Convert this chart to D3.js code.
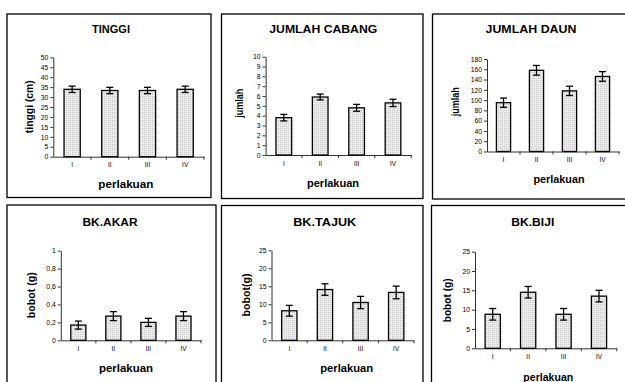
<!DOCTYPE html>
<html><head><meta charset="utf-8">
<script src="https://cdn.jsdelivr.net/npm/d3@7"></script>
<style>
body{margin:0;background:#fff}
svg{display:block}
text{font-family:"Liberation Sans",Arial,sans-serif;fill:#000}
</style>
</head><body><svg id="c" width="625" height="382"></svg>
<script>
// ---------- data ----------
const categories = ["I", "II", "III", "IV"];

const tinggiValues = [33.9, 33.3, 33.3, 33.9];
const tinggiErrors = [1.6, 1.6, 1.6, 1.6];
const tinggiTicks  = [0, 5, 10, 15, 20, 25, 30, 35, 40, 45, 50];

const cabangValues = [3.8, 5.9, 4.8, 5.3];
const cabangErrors = [0.33, 0.3, 0.35, 0.37];
const cabangTicks  = [0, 1, 2, 3, 4, 5, 6, 7, 8, 9, 10];

const daunValues = [95, 158, 118, 146];
const daunErrors = [9, 9.4, 9, 9.4];
const daunTicks  = [0, 20, 40, 60, 80, 100, 120, 140, 160, 180];

const akarValues = [0.17, 0.27, 0.20, 0.27];
const akarErrors = [0.045, 0.05, 0.045, 0.05];
const akarTicks  = [0, 0.2, 0.4, 0.6, 0.8, 1];
const akarTickLabels = ["0", "0,2", "0,4", "0,6", "0,8", "1"];

const tajukValues = [8.2, 14.1, 10.5, 13.3];
const tajukErrors = [1.5, 1.6, 1.7, 1.75];
const tajukTicks  = [0, 5, 10, 15, 20, 25];

const bijiValues = [8.8, 14.5, 8.8, 13.5];
const bijiErrors = [1.5, 1.5, 1.5, 1.5];
const bijiTicks  = [0, 5, 10, 15, 20, 25];

const titles  = ["TINGGI", "JUMLAH CABANG", "JUMLAH DAUN", "BK.AKAR", "BK.TAJUK", "BK.BIJI"];
const yLabels = ["tinggi (cm)", "jumlah", "jumlah", "bobot (g)", "bobot(g)", "bobot (g)"];
const xLabel  = "perlakuan";

// ---------- layout (positions only) ----------
const layout = [
  {box:[7,14,211,197.5],   plot:[53.3,204,156.7,57.3], title:[111,29.3,38],   yLab:[29.3,106.7,53],  xLab:[125.8,184,55]},
  {box:[221.5,14,423,198.5],plot:[265.6,411.2,155,56.7], title:[323.3,29.3,108], yLab:[239,103.3,29], xLab:[333,182.7,52]},
  {box:[432.5,14,640,199], plot:[487,619,151.5,59], title:[531,29.3,91],      yLab:[455,101.7,29], xLab:[559,179.3,51]},
  {box:[7,205,216,400],    plot:[60.8,201,340.3,250.7], title:[110,222.7,55], yLab:[31,295.3,46],  xLab:[126,367.7,54]},
  {box:[221.5,205.5,423,400],plot:[271.5,414,340.3,250.3], title:[324.7,222.7,63], yLab:[245.5,295,43], xLab:[346.7,367.7,53]},
  {box:[431.5,205.5,640,400],plot:[475,616.7,348.3,251.7], title:[532.8,222.7,43], yLab:[447,300.3,44], xLab:[548.3,376.7,50]}
];

const series = [
  {values:tinggiValues, errors:tinggiErrors, ticks:tinggiTicks, labels:tinggiTicks.map(String)},
  {values:cabangValues, errors:cabangErrors, ticks:cabangTicks, labels:cabangTicks.map(String)},
  {values:daunValues,   errors:daunErrors,   ticks:daunTicks,   labels:daunTicks.map(String)},
  {values:akarValues,   errors:akarErrors,   ticks:akarTicks,   labels:akarTickLabels},
  {values:tajukValues,  errors:tajukErrors,  ticks:tajukTicks,  labels:tajukTicks.map(String)},
  {values:bijiValues,   errors:bijiErrors,   ticks:bijiTicks,   labels:bijiTicks.map(String)}
];

const svg = d3.select("#c");
const defs = svg.append("defs");
const pat = defs.append("pattern").attr("id","dots").attr("patternUnits","userSpaceOnUse")
  .attr("width",2).attr("height",2);
pat.append("rect").attr("width",2).attr("height",2).attr("fill","#ececec");
pat.append("rect").attr("width",1).attr("height",1).attr("fill","#c8c8c8");

function label(g, txt, x, y, size, len, rotate){
  return g.append("text")
    .attr("text-anchor","middle")
    .attr("dominant-baseline","central")
    .attr("font-weight","bold")
    .attr("font-size", size)
    .attr("textLength", len)
    .attr("lengthAdjust","spacingAndGlyphs")
    .attr("transform", `translate(${x},${y})` + (rotate ? " rotate(-90)" : ""))
    .text(txt);
}

series.forEach((s, i) => {
  const L = layout[i];
  const g = svg.append("g");
  g.append("rect").attr("x",L.box[0]).attr("y",L.box[1])
    .attr("width",L.box[2]-L.box[0]).attr("height",L.box[3]-L.box[1])
    .attr("fill","#fff").attr("stroke","#000").attr("stroke-width",1.3);

  const [x0,x1,yb,yt] = L.plot;
  const yMax = s.ticks[s.ticks.length-1];
  const x = d3.scaleBand().domain(categories).range([x0,x1]).paddingInner(0.57).paddingOuter(0.285);
  const y = d3.scaleLinear().domain([0,yMax]).range([yb,yt]);

  const ya = d3.axisLeft(y).tickValues(s.ticks).tickSize(3).tickSizeOuter(0)
     .tickFormat((d,k)=>s.labels[k]).tickPadding(2);
  const yg = g.append("g").attr("transform",`translate(${x0},0)`).call(ya);
  yg.select(".domain").attr("stroke","#333").attr("stroke-width",1);
  yg.selectAll(".tick line").attr("stroke","#333");
  yg.selectAll(".tick text").attr("font-size",6.8).attr("fill","#222")
    .attr("font-family","'Liberation Sans',Arial,sans-serif");

  const xa = d3.axisBottom(x).tickSize(0).tickPadding(6);
  const xg = g.append("g").attr("transform",`translate(0,${yb})`).call(xa);
  xg.select(".domain").attr("stroke","#333").attr("stroke-width",1);
  xg.selectAll(".tick text").attr("font-size",6.5).attr("fill","#333")
    .attr("font-family","'DejaVu Sans',sans-serif");
  const step = x.step();
  xg.selectAll("line.sep").data(categories).enter().append("line").attr("class","sep")
    .attr("x1",(d,k)=>x0+step*(k+1)).attr("x2",(d,k)=>x0+step*(k+1))
    .attr("y1",0).attr("y2",3).attr("stroke","#333");

  g.selectAll("rect.bar").data(s.values).enter().append("rect").attr("class","bar")
    .attr("x",(d,k)=>x(categories[k]))
    .attr("y",d=>y(d))
    .attr("width",x.bandwidth())
    .attr("height",d=>yb-y(d))
    .attr("fill","url(#dots)").attr("stroke","#000").attr("stroke-width",1.3);

  const cap = 3.5;
  const eg = g.selectAll("g.err").data(s.values).enter().append("g").attr("class","err");
  eg.append("line")
    .attr("x1",(d,k)=>x(categories[k])+x.bandwidth()/2).attr("x2",(d,k)=>x(categories[k])+x.bandwidth()/2)
    .attr("y1",(d,k)=>y(d+s.errors[k])).attr("y2",(d,k)=>y(d-s.errors[k]))
    .attr("stroke","#000").attr("stroke-width",1.3);
  [1,-1].forEach(sg=>{
    eg.append("line")
      .attr("x1",(d,k)=>x(categories[k])+x.bandwidth()/2-cap).attr("x2",(d,k)=>x(categories[k])+x.bandwidth()/2+cap)
      .attr("y1",(d,k)=>y(d+sg*s.errors[k])).attr("y2",(d,k)=>y(d+sg*s.errors[k]))
      .attr("stroke","#000").attr("stroke-width",1.3);
  });

  label(g, titles[i], L.title[0], L.title[1], 10, L.title[2], false);
  label(g, yLabels[i], L.yLab[0], L.yLab[1], 10.5, L.yLab[2], true);
  label(g, xLabel, L.xLab[0], L.xLab[1], 11, L.xLab[2], false);
});
</script>
</body></html>
